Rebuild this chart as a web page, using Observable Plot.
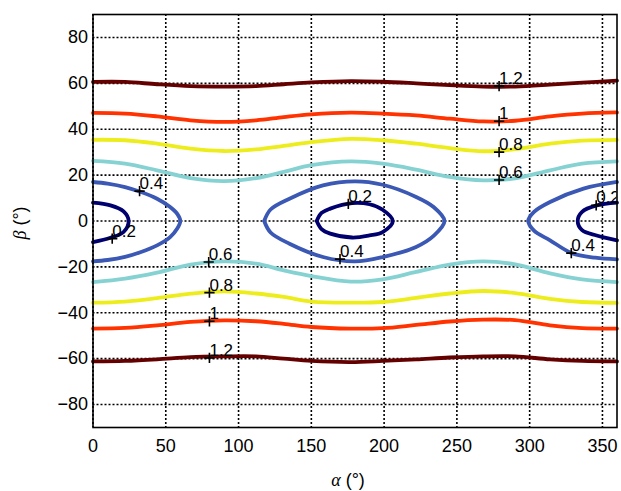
<!DOCTYPE html>
<html>
<head>
<meta charset="utf-8">
<script src="https://cdn.jsdelivr.net/npm/d3@7"></script>
<script src="https://cdn.jsdelivr.net/npm/@observablehq/plot@0.6"></script>
<style>
  html, body { margin: 0; padding: 0; background: #fff; }
  svg { display: block; }
</style>
</head>
<body>
<script>
// Axis ticks
const xTicks = [0, 50, 100, 150, 200, 250, 300, 350];
const yTicks = [-80, -60, -40, -20, 0, 20, 40, 60, 80];

// Contour levels and colours
const levels = ["0.2", "0.4", "0.6", "0.8", "1", "1.2"];
const levelColors = ["#00006e", "#3a58b4", "#86d2d2", "#eded1e", "#ff3200", "#640000"];

// Contour lines, [alpha, beta] pairs
const upper12 = [[0,60.6],[22,60.6],[44,59.6],[67,58.8],[90,58.6],[112,58.8],[131,59.6],[150,60.4],[177,61],[199,60.7],[222,60],[245,59.2],[268,58.6],[290,58.6],[314,59.4],[336,60.3],[360,61.2]];
const upper10 = [[0,47.1],[22,46.8],[44,45.6],[67,43.9],[90,43.2],[112,43.9],[131,45.3],[150,46.5],[177,47.2],[199,46.8],[222,46],[245,44.6],[268,43.4],[290,43.7],[314,45.6],[336,46.8],[360,47.3]];
const upper08 = [[0,35.4],[22,35.2],[44,33.7],[67,31.5],[90,30.5],[112,31.2],[131,32.7],[150,34.4],[177,35.8],[199,35.2],[222,33.7],[245,31.8],[268,30.4],[290,31.3],[314,33.7],[336,35],[360,35.4]];
const upper06 = [[0,26.2],[22,25],[44,22.1],[67,18.7],[90,17.4],[112,18.7],[131,21.4],[150,24.3],[177,26],[199,25],[222,22.4],[245,19.2],[268,17.7],[290,18.6],[314,22.1],[336,25],[360,26]];
const lower06 = [[0,-26.6],[22,-25.1],[44,-22.5],[67,-19],[90,-17.6],[112,-18.6],[131,-21.5],[150,-24],[177,-26.4],[199,-25.4],[222,-22.2],[245,-19],[268,-17.6],[290,-18.9],[314,-22.8],[336,-25.4],[360,-26.6]];
const lower08 = [[0,-35.6],[22,-35.1],[44,-33.6],[67,-31.7],[90,-30.7],[112,-31.6],[131,-33.1],[150,-35.1],[177,-35.6],[199,-35.3],[222,-33.5],[245,-31.6],[268,-30.5],[290,-31.4],[314,-33.9],[336,-35.3],[360,-35.7]];
const lower10 = [[0,-46.9],[22,-46.6],[44,-45.5],[67,-44],[90,-43.3],[112,-43.7],[131,-44.8],[150,-46.2],[177,-46.9],[199,-46.7],[222,-45.3],[245,-43.8],[268,-43],[290,-43.2],[314,-45.5],[336,-46.7],[360,-46.9]];
const lower12 = [[0,-61.2],[22,-61],[44,-60.3],[67,-59.3],[90,-59],[112,-59],[131,-60],[150,-61],[177,-61.5],[199,-61],[222,-60.3],[245,-59.5],[268,-59],[290,-59],[314,-60.3],[336,-61],[360,-61.2]];

const loop04Left = [[0,17],[10,16.3],[22,14.8],[33,12.6],[44,9.7],[53,6.1],[58,3],[60,0],[58,-3.2],[53,-7],[44,-10.6],[33,-13.5],[22,-15.6],[10,-17],[0,-17.6]];
const loop04Mid = [[117.6,0],[122,5],[135,9.7],[158,15.5],[180,17.3],[199,15.8],[222,10.5],[234,6.1],[241.5,0],[234,-6.5],[222,-11.3],[199,-15.7],[180,-17.6],[158,-15.7],[135,-9.9],[122,-5],[117.6,0]];
const loop04Right = [[360,17],[337,14.1],[314,8.3],[303,4],[299,0],[303,-4.2],[314,-8.4],[329,-14],[345,-16],[360,-16.7]];
const loop02Left = [[0,8],[12,6.8],[21,4.2],[24.5,0],[21,-4.8],[12,-7.3],[0,-9.2]];
const loop02Mid = [[153.7,0],[157,3.5],[163,5.4],[178,7.8],[190,7.3],[199,4.9],[206,0],[199,-4.8],[190,-6.3],[178,-7.2],[163,-5.5],[157,-3.5],[153.7,0]];
const loop02Right = [[360,8],[346,6.8],[336,4],[333,0],[336,-4],[346,-6.3],[360,-8.4]];

// Contour label positions (markers) and texts
const labelAlpha = [32, 13.2, 79.5, 80, 80, 80, 175.4, 169.7, 279, 279, 279, 279, 345.7, 328.6];
const labelBeta  = [13, -7.7, -17.9, -31.2, -43.7, -59.7, 7.5, -16.6, 58.8, 43.5, 30, 17.9, 6.8, -14];
const labelText  = ["0.4", "0.2", "0.6", "0.8", "1", "1.2", "0.2", "0.4", "1.2", "1", "0.8", "0.6", "0.2", "0.4"];

const contours = [
  ["1.2", upper12], ["1", upper10], ["0.8", upper08], ["0.6", upper06],
  ["0.6", lower06], ["0.8", lower08], ["1", lower10], ["1.2", lower12],
  ["0.4", loop04Left], ["0.4", loop04Mid], ["0.4", loop04Right],
  ["0.2", loop02Left], ["0.2", loop02Mid], ["0.2", loop02Right]
];

const rows = [];
contours.forEach(([lev, pts], i) => {
  const color = levelColors[levels.indexOf(lev)];
  pts.forEach(([x, y]) => rows.push({x, y, id: i, color}));
});
const labels = labelText.map((t, i) => ({x: labelAlpha[i], y: labelBeta[i], t}));

const grid = {stroke: "black", strokeOpacity: 1, strokeWidth: 1.6, strokeDasharray: "2,2"};

const chart = Plot.plot({
  width: 621,
  height: 491,
  marginLeft: 92.5,
  marginRight: 4.5,
  marginTop: 14,
  marginBottom: 64,
  x: {domain: [0, 360]},
  y: {domain: [-90, 90]},
  style: {fontFamily: "'Liberation Sans', Arial, sans-serif", fontSize: "18px", color: "black", background: "white"},
  marks: [
    Plot.gridX(xTicks, grid),
    Plot.gridY(yTicks, grid),
    Plot.line(rows, {x: "x", y: "y", z: "id", stroke: "color", strokeWidth: 3.8, curve: "catmull-rom"}),
    Plot.dot(labels, {x: "x", y: "y", symbol: "plus", r: 3.4, stroke: "black", strokeWidth: 1.6}),
    Plot.text(labels, {x: "x", y: "y", text: "t", textAnchor: "start", lineAnchor: "bottom", dx: 0, dy: -2, fontSize: 17, fill: "black", clip: true}),
    Plot.frame({stroke: "black", strokeWidth: 1.6}),
    Plot.axisX(xTicks, {tickSize: 0, tickPadding: 12, label: null, fontSize: 18}),
    Plot.axisY(yTicks, {tickSize: 0, tickPadding: 5, label: null, fontSize: 18})
  ]
});
document.body.appendChild(chart);

const svg = d3.select(chart);
const yl = svg.append("text")
  .attr("transform", "translate(26,223) rotate(-90)")
  .attr("text-anchor", "middle")
  .attr("font-size", 18)
  .attr("fill", "black");
yl.append("tspan").attr("font-family", "'Liberation Serif', 'DejaVu Serif', serif").attr("font-style", "italic").text("β");
yl.append("tspan").attr("font-family", "'Liberation Sans', Arial, sans-serif").text(" (°)");

const xl = svg.append("text")
  .attr("transform", "translate(348,486)")
  .attr("text-anchor", "middle")
  .attr("font-size", 18)
  .attr("fill", "black");
xl.append("tspan").attr("font-family", "'Liberation Serif', 'DejaVu Serif', serif").attr("font-style", "italic").text("α");
xl.append("tspan").attr("font-family", "'Liberation Sans', Arial, sans-serif").text(" (°)");
</script>
</body>
</html>
